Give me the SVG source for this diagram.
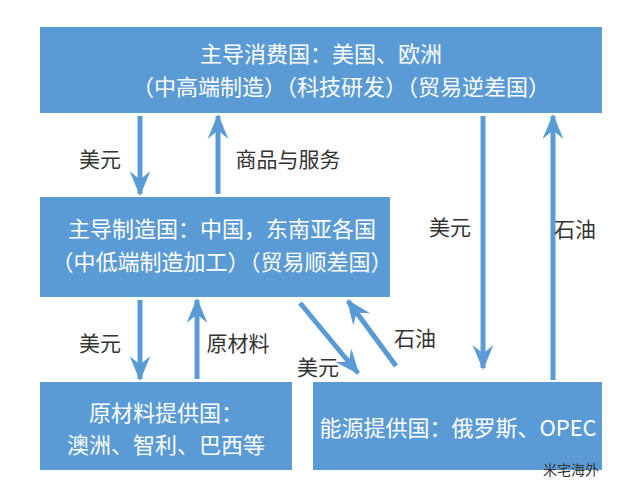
<svg xmlns="http://www.w3.org/2000/svg" width="642" height="500" viewBox="0 0 642 500">
<style>
.box{fill:#5b9bd5}
.bt{fill:#fff;font-family:"Noto Sans CJK SC","Noto Sans",sans-serif;font-size:22px;text-anchor:middle}
.lb{fill:#333;font-family:"Noto Sans CJK SC","Noto Sans",sans-serif;font-size:21px;text-anchor:middle}
.ar{stroke:#5b9bd5;stroke-width:5;fill:none;marker-end:url(#ah)}
</style>
<defs>
<marker id="ah" viewBox="0 0 12 10" refX="11" refY="5" markerWidth="5" markerHeight="5" orient="auto" markerUnits="strokeWidth">
<path d="M0,0 L12,5 L0,10 L4,5 z" fill="#5b9bd5"/>
</marker>
</defs>
<rect width="642" height="500" fill="#fff"/>
<g id="top"><rect class="box" x="40" y="27" width="562" height="86"/>
<text class="bt" x="321" y="62">主导消费国：美国、欧洲</text>
<text class="bt" x="341" y="95">（中高端制造）（科技研发）（贸易逆差国）</text></g>
<g id="mid"><rect class="box" x="40" y="197" width="350" height="100"/>
<text class="bt" x="222" y="237">主导制造国：中国，东南亚各国</text>
<text class="bt" x="222" y="270">（中低端制造加工）（贸易顺差国）</text></g>
<g id="raw"><rect class="box" x="40" y="382" width="252" height="88"/>
<text class="bt" x="166" y="421">原材料提供国：</text>
<text class="bt" x="166" y="453">澳洲、智利、巴西等</text></g>
<g id="energy"><rect class="box" x="313" y="382" width="289" height="88"/>
<text class="bt" x="458" y="436">能源提供国：俄罗斯、OPEC</text></g>
<g id="connectors">
<line class="ar" x1="140" y1="116" x2="140" y2="194"/>
<line class="ar" x1="218" y1="194" x2="218" y2="116"/>
<line class="ar" x1="483" y1="116" x2="483" y2="368"/>
<line class="ar" x1="553" y1="380" x2="553" y2="116"/>
<line class="ar" x1="140" y1="300" x2="140" y2="379"/>
<line class="ar" x1="197" y1="379" x2="197" y2="300"/>
<line class="ar" x1="300" y1="303" x2="358" y2="373"/>
<line class="ar" x1="396" y1="366" x2="348" y2="301"/>
</g>
<g id="labels">
<text class="lb" x="100" y="167">美元</text>
<text class="lb" x="288" y="167">商品与服务</text>
<text class="lb" x="450" y="235">美元</text>
<text class="lb" x="575" y="237">石油</text>
<text class="lb" x="100" y="351">美元</text>
<text class="lb" x="238" y="351">原材料</text>
<text class="lb" x="318" y="375">美元</text>
<text class="lb" x="415" y="346">石油</text>
<text x="571" y="475" style="fill:#333;font-family:'Noto Sans CJK SC',sans-serif;font-size:14px;text-anchor:middle">米宅海外</text>
</g>
</svg>
